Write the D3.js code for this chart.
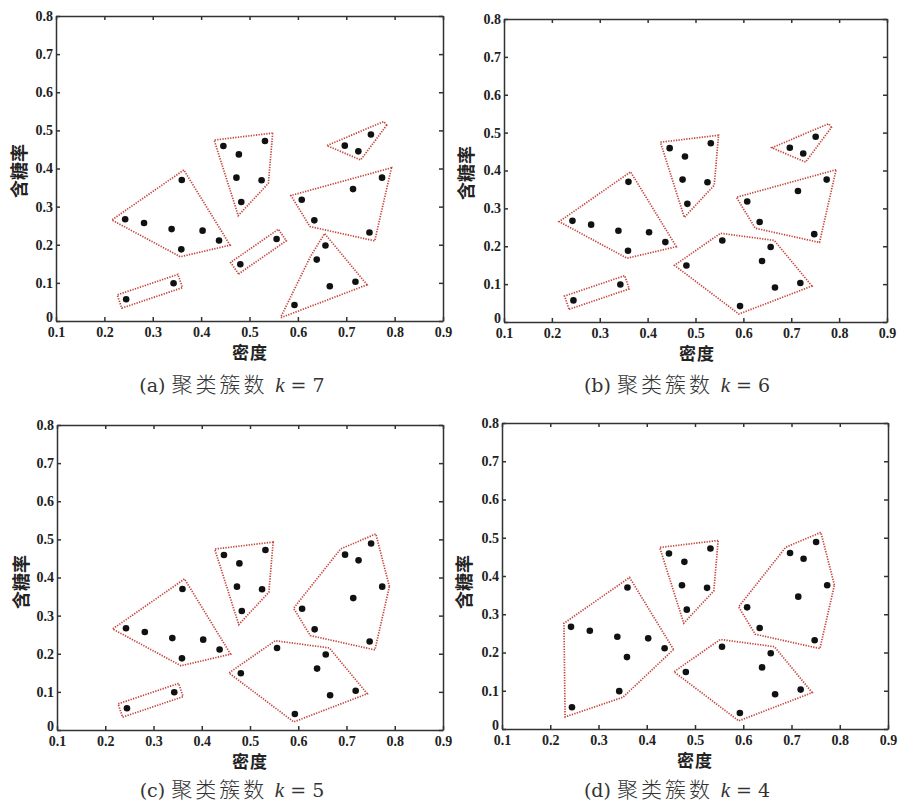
<!DOCTYPE html>
<html><head><meta charset="utf-8">
<script src="https://cdn.jsdelivr.net/npm/d3@7"></script>
<style>body{margin:0;background:#fff}svg{display:block}</style>
</head><body><svg id="c" width="898" height="803"></svg>
<script>
// Watermelon data set 4.0: density (密度) and sugar content (含糖率), samples 1..30
const density = [0.697,0.774,0.634,0.608,0.556,0.403,0.481,0.437,0.666,0.243,0.245,0.343,0.639,0.657,0.360,0.593,0.719,0.359,0.339,0.282,0.748,0.714,0.483,0.478,0.525,0.751,0.532,0.473,0.725,0.446];
const sugar   = [0.460,0.376,0.264,0.318,0.215,0.237,0.149,0.211,0.091,0.267,0.057,0.099,0.161,0.198,0.370,0.042,0.103,0.188,0.241,0.257,0.232,0.346,0.312,0.437,0.369,0.489,0.472,0.376,0.445,0.459];
// cluster membership (sample ids) for each k
const clustersK7 = [[10,20,19,6,8,18,15],[11,12],[30,27,24,28,25,23],[7,5],[1,29,26],[4,3,22,2,21],[14,13,9,17,16]];
const clustersK6 = [[10,20,19,6,8,18,15],[11,12],[30,27,24,28,25,23],[7,5,14,13,9,17,16],[1,29,26],[4,3,22,2,21]];
const clustersK5 = [[10,20,19,6,8,18,15],[11,12],[30,27,24,28,25,23],[7,5,14,13,9,17,16],[1,29,26,4,3,22,2,21]];
const clustersK4 = [[10,20,19,6,8,18,15,11,12],[30,27,24,28,25,23],[7,5,14,13,9,17,16],[1,29,26,4,3,22,2,21]];
const xTicks = [0.1,0.2,0.3,0.4,0.5,0.6,0.7,0.8,0.9];
const xTickLabels = ["0.1","0.2","0.3","0.4","0.5","0.6","0.7","0.8","0.9"];
const yTicks = [0,0.1,0.2,0.3,0.4,0.5,0.6,0.7,0.8];
const yTickLabels = ["0","0.1","0.2","0.3","0.4","0.5","0.6","0.7","0.8"];
const panelLetters = ["a","b","c","d"];
const kValues = [7,6,5,4];
const xTitle = "密度", yTitle = "含糖率", captionText = "聚类簇数";

const clusterSets = [clustersK7, clustersK6, clustersK5, clustersK4];
const layout = [
  {l:56, r:443, t:16, b:321, cx:232, cy:392, xlx:250, xly:359, ylx:26, yly:171},
  {l:504,r:887, t:19, b:322, cx:677, cy:392, xlx:697, xly:360, ylx:473, yly:173},
  {l:57, r:443, t:425,b:730, cx:232, cy:797, xlx:250, xly:768, ylx:28, yly:582},
  {l:502,r:888, t:423,b:729, cx:677, cy:797, xlx:695, xly:767, ylx:471, yly:582}
];

const svg = d3.select("#c");
const HULL = "#c4453c";
const OFF = 7;

function offsetPolygon(pts, d) {
  if (pts.length === 2) {
    const [a, b] = pts;
    let ex = b[0]-a[0], ey = b[1]-a[1];
    const L = Math.hypot(ex, ey); ex /= L; ey /= L;
    const nx = -ey, ny = ex;
    return [
      [a[0]-ex*d+nx*d, a[1]-ey*d+ny*d],
      [b[0]+ex*d+nx*d, b[1]+ey*d+ny*d],
      [b[0]+ex*d-nx*d, b[1]+ey*d-ny*d],
      [a[0]-ex*d-nx*d, a[1]-ey*d-ny*d]
    ];
  }
  const hull = d3.polygonHull(pts);
  const n = hull.length, out = [];
  const edges = hull.map((p, i) => {
    const q = hull[(i+1)%n];
    let ex = q[0]-p[0], ey = q[1]-p[1];
    const L = Math.hypot(ex, ey);
    ex /= L; ey /= L;
    return {ex, ey, nx: ey, ny: -ex};
  });
  const c = d3.polygonCentroid(hull);
  const e0 = edges[0], p0 = hull[0];
  const sign = ((p0[0]-c[0])*e0.nx + (p0[1]-c[1])*e0.ny) > 0 ? 1 : -1;
  edges.forEach(e => { e.nx *= sign; e.ny *= sign; });
  const limit = 2.6*d;
  for (let i = 0; i < n; i++) {
    const p = hull[i], A = edges[(i-1+n)%n], B = edges[i];
    let bx = A.nx + B.nx, by = A.ny + B.ny;
    const bl = Math.hypot(bx, by); bx /= bl; by /= bl;
    const cosH = bx*B.nx + by*B.ny;
    const m = d / cosH;
    if (m <= limit) {
      out.push([p[0]+bx*m, p[1]+by*m]);
    } else {
      const tA = (limit - d*(A.nx*bx + A.ny*by)) / (A.ex*bx + A.ey*by);
      const tB = (limit - d*(B.nx*bx + B.ny*by)) / (B.ex*bx + B.ey*by);
      out.push([p[0]+A.nx*d+A.ex*tA, p[1]+A.ny*d+A.ey*tA]);
      out.push([p[0]+B.nx*d+B.ex*tB, p[1]+B.ny*d+B.ey*tB]);
    }
  }
  return out;
}

layout.forEach((L, pi) => {
  const x = d3.scaleLinear().domain([0.1, 0.9]).range([L.l, L.r]);
  const y = d3.scaleLinear().domain([0, 0.8]).range([L.b, L.t]);
  const g = svg.append("g");

  // hulls
  clusterSets[pi].forEach(cl => {
    const pts = cl.map(id => [x(density[id-1]), y(sugar[id-1])]);
    const poly = offsetPolygon(pts, OFF);
    g.append("path")
      .attr("d", "M" + poly.map(p => p.join(",")).join("L") + "Z")
      .attr("fill", "none").attr("stroke", HULL)
      .attr("stroke-width", 1.7).attr("stroke-dasharray", "1.3,1.3")
      .attr("stroke-linejoin", "miter");
  });

  // points
  g.selectAll("circle.pt").data(density).join("circle")
    .attr("class", "pt")
    .attr("cx", d => x(d)).attr("cy", (d, i) => y(sugar[i]))
    .attr("r", 3.3).attr("fill", "#111");

  // axes
  const tickFont = s => s.selectAll("text")
    .style("font-family", "'Liberation Serif','Times New Roman',serif")
    .style("font-weight", "bold").style("font-size", "14px").style("fill", "#222");
  const styleAxis = s => {
    s.selectAll("path,line").attr("stroke", "#333").attr("stroke-width", 1.5);
  };
  const xb = d3.axisBottom(x).tickValues(xTicks).tickFormat((d,i) => xTickLabels[i]).tickSizeInner(-4).tickSizeOuter(0).tickPadding(4);
  g.append("g").attr("transform", `translate(0,${L.b})`).call(xb).call(styleAxis).call(tickFont)
    .call(a => a.selectAll("text").attr("dy", "0.85em"));
  const xt = d3.axisTop(x).tickValues(xTicks).tickFormat("").tickSizeInner(-4).tickSizeOuter(0);
  g.append("g").attr("transform", `translate(0,${L.t})`).call(xt).call(styleAxis);
  const yl = d3.axisLeft(y).tickValues(yTicks).tickFormat((d,i) => yTickLabels[i]).tickSizeInner(-4).tickSizeOuter(0).tickPadding(3);
  g.append("g").attr("transform", `translate(${L.l},0)`).call(yl).call(styleAxis).call(tickFont)
    .call(a => a.selectAll("text").filter(d => d === 0).attr("dy", "0.05em"));
  const yr = d3.axisRight(y).tickValues(yTicks).tickFormat("").tickSizeInner(-4).tickSizeOuter(0);
  g.append("g").attr("transform", `translate(${L.r},0)`).call(yr).call(styleAxis);
  g.selectAll(".domain").attr("fill", "none");

  // axis titles
  g.append("text").attr("x", L.xlx).attr("y", L.xly).attr("text-anchor", "middle")
    .attr("font-family", "'Noto Sans CJK SC',sans-serif").attr("font-weight", "bold")
    .attr("font-size", 17).attr("fill", "#222").attr("letter-spacing", 1).text(xTitle);
  g.append("text").attr("transform", `translate(${L.ylx},${L.yly}) rotate(-90)`).attr("text-anchor", "middle")
    .attr("font-family", "'Noto Sans CJK SC',sans-serif").attr("font-weight", "bold")
    .attr("font-size", 18).attr("fill", "#222").text(yTitle);

  // caption
  const cap = g.append("text").attr("x", L.cx).attr("y", L.cy).attr("text-anchor", "middle")
    .attr("font-size", 21).attr("fill", "#333");
  cap.append("tspan").attr("font-family", "'DejaVu Serif','Liberation Serif',serif").attr("font-size", 19)
    .text(`(${panelLetters[pi]}) `);
  cap.append("tspan").attr("font-family", "'Noto Sans CJK SC',sans-serif").attr("font-weight", 300)
    .attr("letter-spacing", 3).text(captionText + " ");
  cap.append("tspan").attr("font-family", "'Liberation Serif',serif").attr("font-style", "italic").text("k");
  cap.append("tspan").attr("font-family", "'DejaVu Serif','Liberation Serif',serif").attr("font-size", 19)
    .text(` = ${kValues[pi]}`);
});
</script></body></html>
